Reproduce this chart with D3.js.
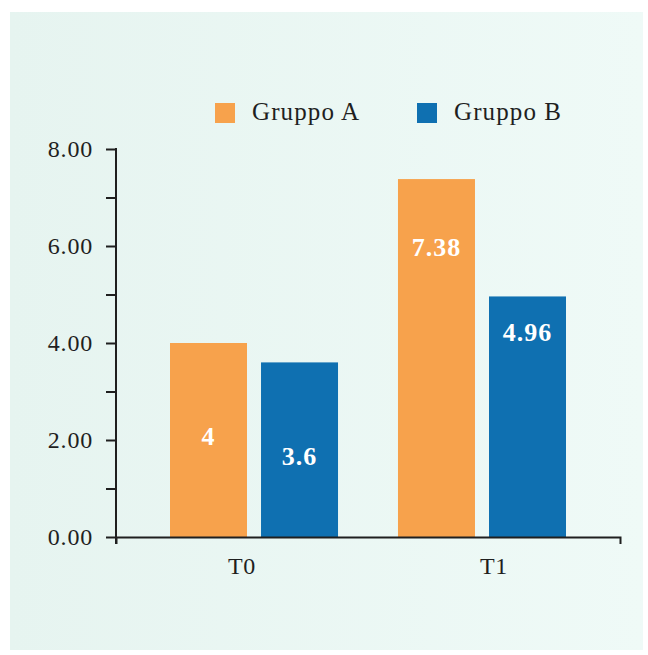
<!DOCTYPE html>
<html>
<head>
<meta charset="utf-8">
<script src="https://cdn.jsdelivr.net/npm/d3@7/dist/d3.min.js"></script>
<style>
  html, body { margin: 0; padding: 0; background: #ffffff; }
  svg { display: block; }
  text { font-family: "Liberation Serif", "DejaVu Serif", serif; }
</style>
</head>
<body>
<svg id="chart" width="648" height="655"></svg>
<script>
// Categories, series and values
const categories = ["T0", "T1"];
const seriesNames = ["Gruppo A", "Gruppo B"];
const gruppoA = [4, 7.38];
const gruppoB = [3.6, 4.96];
const valueLabelsA = ["4", "7.38"];
const valueLabelsB = ["3.6", "4.96"];
const yTicks = [0, 2, 4, 6, 8];
const yMinorTicks = [1, 3, 5, 7];

// Where each value label sits inside its bar, in axis units
const labelLevelA = [1.9, 5.8];
const labelLevelB = [1.48, 4.04];

const colors = { "Gruppo A": "#F7A24C", "Gruppo B": "#0F70B1" };
const ink = "#1f1f1f";

const svg = d3.select("#chart");

// Panel background
const defs = svg.append("defs");
const grad = defs.append("linearGradient").attr("id", "panelGrad")
  .attr("x1", "0%").attr("x2", "100%").attr("y1", "0%").attr("y2", "0%");
grad.append("stop").attr("offset", "0%").attr("stop-color", "#E6F4F0");
grad.append("stop").attr("offset", "100%").attr("stop-color", "#EFFAF7");
svg.append("rect").attr("x", 10).attr("y", 12).attr("width", 633).attr("height", 638)
  .attr("fill", "url(#panelGrad)");

// Scales
const y = d3.scaleLinear().domain([0, 8]).range([537, 149]);
const xAxisScale = d3.scaleBand().domain(categories).range([116, 620]);
const x0 = d3.scaleBand().domain(categories).range([170, 566]).paddingInner(0.263);
const x1 = d3.scaleBand().domain(seriesNames).range([0, x0.bandwidth()]).paddingInner(0.154);

const rows = categories.map((c, i) => ({
  cat: c,
  bars: [
    { s: "Gruppo A", v: gruppoA[i], label: valueLabelsA[i], at: labelLevelA[i] },
    { s: "Gruppo B", v: gruppoB[i], label: valueLabelsB[i], at: labelLevelB[i] }
  ]
}));

// Bars
const groups = svg.append("g").selectAll("g").data(rows).join("g")
  .attr("transform", d => `translate(${x0(d.cat)},0)`);
groups.selectAll("rect").data(d => d.bars).join("rect")
  .attr("x", d => x1(d.s))
  .attr("y", d => y(d.v))
  .attr("width", x1.bandwidth())
  .attr("height", d => y(0) - y(d.v))
  .attr("fill", d => colors[d.s]);

// Value labels
groups.selectAll("text").data(d => d.bars).join("text")
  .attr("x", d => x1(d.s) + x1.bandwidth() / 2)
  .attr("y", d => y(d.at))
  .attr("text-anchor", "middle")
  .attr("fill", "#ffffff")
  .attr("font-weight", "bold")
  .attr("font-size", 26)
  .attr("letter-spacing", 1)
  .text(d => d.label);

// Y axis
const yAxis = svg.append("g").attr("transform", "translate(116,0)")
  .call(d3.axisLeft(y).tickValues(yTicks).tickFormat(d3.format(".2f"))
    .tickSize(10).tickSizeOuter(0).tickPadding(13));
yAxis.select(".domain").remove();
yAxis.selectAll(".tick line").attr("stroke", ink).attr("stroke-width", 2);
yAxis.selectAll(".tick text").attr("font-size", 24).attr("fill", ink)
  .attr("letter-spacing", 0.8).attr("font-family", "Liberation Serif, serif");
svg.append("g").attr("transform", "translate(116,0)")
  .call(d3.axisLeft(y).tickValues(yMinorTicks).tickFormat("").tickSize(10).tickSizeOuter(0))
  .call(g => g.select(".domain").remove())
  .selectAll(".tick line").attr("stroke", ink).attr("stroke-width", 2);
svg.append("line")
  .attr("x1", 116).attr("x2", 116).attr("y1", y(8) - 1).attr("y2", y(0) + 7)
  .attr("stroke", ink).attr("stroke-width", 2);

// X axis
const xAxis = svg.append("g").attr("transform", `translate(0,${y(0)})`)
  .call(d3.axisBottom(xAxisScale).tickSize(0).tickSizeOuter(7).tickPadding(20));
xAxis.select(".domain").attr("stroke", ink).attr("stroke-width", 2).attr("fill", "none");
xAxis.selectAll(".tick text").attr("font-size", 24).attr("fill", ink)
  .attr("letter-spacing", 0.8).attr("font-family", "Liberation Serif, serif");

// Legend
const legendX = [215, 417];
const legend = svg.append("g").selectAll("g").data(seriesNames).join("g")
  .attr("transform", (d, i) => `translate(${legendX[i]},103)`);
legend.append("rect").attr("width", 20).attr("height", 20).attr("fill", d => colors[d]);
legend.append("text").attr("x", 37).attr("y", 17)
  .attr("font-size", 25).attr("letter-spacing", 1.1).attr("fill", ink)
  .text(d => d);
</script>
</body>
</html>
